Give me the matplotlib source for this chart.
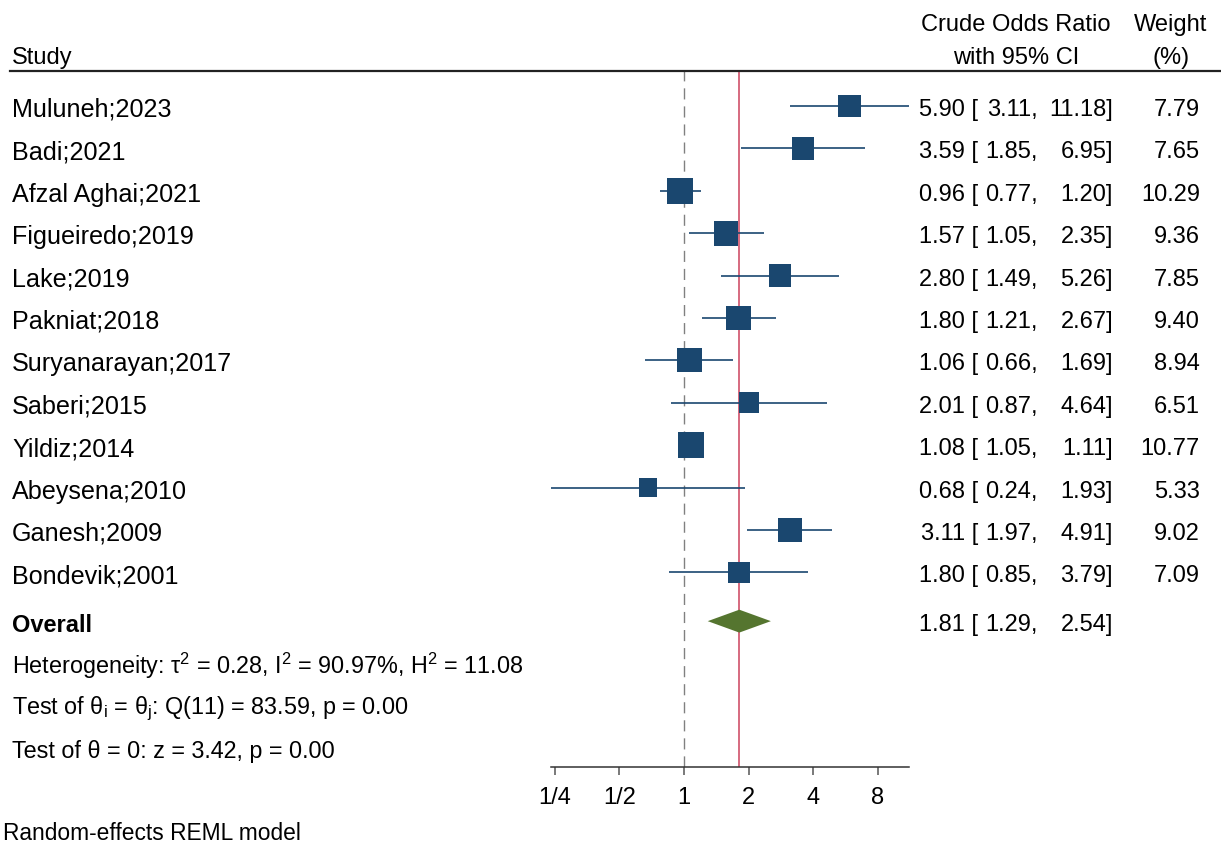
import matplotlib
matplotlib.use('Agg')
import matplotlib.pyplot as plt
from matplotlib.transforms import blended_transform_factory, offset_copy
from matplotlib.lines import Line2D
from matplotlib.patches import Polygon

plt.rcParams['font.family'] = ['Liberation Sans', 'DejaVu Sans']
plt.rcParams['mathtext.fontset'] = 'custom'
plt.rcParams['mathtext.rm'] = 'Liberation Sans'
plt.rcParams['mathtext.it'] = 'Liberation Sans:italic'

# study data
studies = ['Muluneh;2023', 'Badi;2021', 'Afzal Aghai;2021', 'Figueiredo;2019',
           'Lake;2019', 'Pakniat;2018', 'Suryanarayan;2017', 'Saberi;2015',
           'Yildiz;2014', 'Abeysena;2010', 'Ganesh;2009', 'Bondevik;2001']
odds = [5.90, 3.59, 0.96, 1.57, 2.80, 1.80, 1.06, 2.01, 1.08, 0.68, 3.11, 1.80]
lower = [3.11, 1.85, 0.77, 1.05, 1.49, 1.21, 0.66, 0.87, 1.05, 0.24, 1.97, 0.85]
upper = [11.18, 6.95, 1.20, 2.35, 5.26, 2.67, 1.69, 4.64, 1.11, 1.93, 4.91, 3.79]
weights = [7.79, 7.65, 10.29, 9.36, 7.85, 9.40, 8.94, 6.51, 10.77, 5.33, 9.02, 7.09]

overall_or = 1.81
overall_lo = 1.29
overall_hi = 2.54

stats_lines = [r'Heterogeneity: τ$^{2}$ = 0.28, I$^{2}$ = 90.97%, H$^{2}$ = 11.08',
               r'Test of θ$_{\mathrm{i}}$ = θ$_{\mathrm{j}}$: Q(11) = 83.59, p = 0.00',
               'Test of θ = 0: z = 3.42, p = 0.00']

tick_vals = [0.25, 0.5, 1, 2, 4, 8]
tick_labels = ['1/4', '1/2', '1', '2', '4', '8']

navy = '#1a476f'
green = '#55752f'
red = '#d0506a'
fs = 17

W, H = 1221, 845
fig = plt.figure(figsize=(W / 100, H / 100), dpi=100)
ax = fig.add_axes([551 / W, 1 - 768 / H, (909 - 551) / W, (768 - 72) / H])
ax.set_xscale('log', base=2)
ax.set_xlim(min(lower), max(upper))
ax.set_ylim(15.59, -0.825)

rows = list(range(len(studies)))
overall_row = 12.15
stat_rows = [13.11, 14.13, 15.12]

# CIs and weighted squares
ax.hlines(rows, lower, upper, color=navy, lw=1.2, zorder=2)
ax.scatter(odds, rows, s=[33.8 * w for w in weights], marker='s',
           color=navy, edgecolors='none', zorder=3)

# overall diamond
d = 0.27
ax.add_patch(Polygon([(overall_lo, overall_row), (overall_or, overall_row - d),
                      (overall_hi, overall_row), (overall_or, overall_row + d)],
                     closed=True, facecolor=green, edgecolor='none', zorder=3))

ax.axvline(1, color='#808080', lw=1.0, ls=(0, (8, 5)), zorder=1)
ax.axvline(overall_or, color=red, lw=1.2, zorder=1)

for s in ['top', 'left', 'right']:
    ax.spines[s].set_visible(False)
ax.spines['bottom'].set_color('#333333')
ax.spines['bottom'].set_linewidth(1.1)
ax.set_yticks([])
ax.set_xticks(tick_vals)
ax.set_xticklabels(tick_labels)
ax.minorticks_off()
ax.tick_params(axis='x', length=6, width=1.1, color='#555555', labelsize=fs, pad=8)

# text transforms, nudged down a little so glyphs sit centred on the rows
tr = offset_copy(blended_transform_factory(fig.transFigure, ax.transData),
                 fig=fig, y=-3, units='dots')
ftr = offset_copy(fig.transFigure, fig=fig, y=-3, units='dots')

# header
fig.text(12 / W, 1 - 55 / H, 'Study', fontsize=fs, va='center', ha='left', transform=ftr)
fig.text(1016 / W, 1 - 22 / H, 'Crude Odds Ratio', fontsize=fs, va='center', ha='center', transform=ftr)
fig.text(1016 / W, 1 - 55 / H, 'with 95% CI', fontsize=fs, va='center', ha='center', transform=ftr)
fig.text(1171 / W, 1 - 22 / H, 'Weight', fontsize=fs, va='center', ha='center', transform=ftr)
fig.text(1171 / W, 1 - 55 / H, '(%)', fontsize=fs, va='center', ha='center', transform=ftr)
fig.add_artist(Line2D([10 / W, 1], [1 - 72 / H, 1 - 72 / H], color='#222222', lw=1.6))

for r, name, o, lo, hi, w in zip(rows, studies, odds, lower, upper, weights):
    fig.text(12 / W, r, name, fontsize=18.1, va='center', transform=tr)
    fig.text(978 / W, r, f'{o:.2f} [', fontsize=fs, va='center', ha='right', transform=tr)
    fig.text(1038 / W, r, f'{lo:.2f},', fontsize=fs, va='center', ha='right', transform=tr)
    fig.text(1113 / W, r, f'{hi:.2f}]', fontsize=fs, va='center', ha='right', transform=tr)
    fig.text(1200 / W, r, f'{w:.2f}', fontsize=fs, va='center', ha='right', transform=tr)

fig.text(12 / W, overall_row, 'Overall', fontsize=fs, fontweight='bold', va='center', transform=tr)
fig.text(978 / W, overall_row, f'{overall_or:.2f} [', fontsize=fs, va='center', ha='right', transform=tr)
fig.text(1038 / W, overall_row, f'{overall_lo:.2f},', fontsize=fs, va='center', ha='right', transform=tr)
fig.text(1113 / W, overall_row, f'{overall_hi:.2f}]', fontsize=fs, va='center', ha='right', transform=tr)

for r, txt in zip(stat_rows, stats_lines):
    fig.text(12 / W, r, txt, fontsize=16.8, va='center', transform=tr)

fig.text(3 / W, 1 - 831 / H, 'Random-effects REML model', fontsize=16.4, va='center', ha='left',
         transform=ftr)

fig.savefig('out.png', dpi=100, facecolor='white')
